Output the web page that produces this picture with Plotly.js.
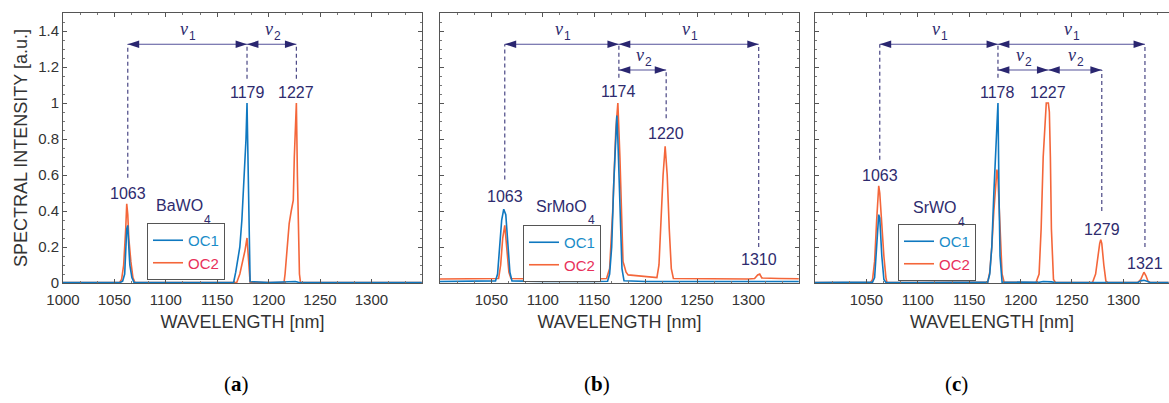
<!DOCTYPE html>
<html><head><meta charset="utf-8">
<script src="https://cdn.plot.ly/plotly-3.0.1.min.js"></script>
<style>html,body{margin:0;padding:0;background:#fff}</style>
</head><body><div id="chart" style="width:1169px;height:403px"></div>
<script>
// ---------- data ----------
// Panel (a) BaWO4
const aWlOC1 = [1000,1030,1056,1058,1060,1062,1063,1064,1065,1067,1069,1100,1140,1166,1168,1170,1172,1174,1176,1178,1179,1180,1181,1182,1200,1217,1220,1226,1229,1260,1300,1349];
const aOC1   = [0.003,0.003,0.004,0.01,0.05,0.3,0.32,0.2,0.1,0.03,0.004,0.003,0.003,0.004,0.06,0.12,0.2,0.35,0.55,0.8,1.0,0.62,0.2,0.008,0.003,0.004,0.008,0.008,0.004,0.003,0.003,0.003];
const aWlOC2 = [1000,1030,1055,1057,1059,1061,1062,1063,1064,1066,1068,1070,1100,1150,1169,1172,1175,1177,1179,1180,1182,1200,1215,1216,1218,1220,1222,1224,1225,1227,1228,1230,1231,1260,1300,1349];
const aOC2   = [0.002,0.002,0.003,0.02,0.1,0.3,0.44,0.38,0.25,0.12,0.03,0.003,0.002,0.002,0.003,0.05,0.12,0.18,0.25,0.15,0.005,0.002,0.003,0.05,0.22,0.33,0.4,0.46,0.7,1.0,0.6,0.05,0.003,0.002,0.002,0.002];
// Panel (b) SrMoO4
const bWlOC1 = [1000,1050,1054,1056,1058,1060,1062,1064,1066,1068,1070,1100,1150,1163,1165,1167,1169,1171,1172,1173,1175,1177,1179,1200,1250,1300,1310,1349];
const bOC1   = [0.008,0.008,0.012,0.05,0.2,0.35,0.41,0.38,0.22,0.06,0.012,0.008,0.008,0.01,0.05,0.2,0.55,0.85,0.93,0.8,0.4,0.08,0.012,0.008,0.008,0.008,0.01,0.008];
const bWlOC2 = [1000,1050,1057,1059,1061,1063,1065,1067,1069,1100,1150,1162,1165,1168,1171,1173,1175,1177,1178,1179,1181,1183,1195,1205,1211,1213,1215,1217,1219,1221,1223,1225,1227,1260,1300,1306,1309,1311,1313,1330,1349];
const bOC2   = [0.022,0.022,0.025,0.1,0.25,0.32,0.2,0.06,0.025,0.022,0.022,0.025,0.08,0.4,0.85,1.0,0.7,0.25,0.12,0.1,0.06,0.045,0.04,0.035,0.03,0.1,0.35,0.6,0.76,0.6,0.3,0.08,0.025,0.022,0.022,0.025,0.045,0.05,0.028,0.025,0.024];
// Panel (c) SrWO4
const cWlOC1 = [1000,1050,1056,1058,1060,1062,1063,1065,1067,1069,1100,1150,1168,1170,1172,1174,1176,1178,1179,1180,1182,1200,1218,1222,1226,1230,1234,1260,1276,1279,1282,1300,1314,1317,1320,1323,1326,1344];
const cOC1   = [0.003,0.003,0.005,0.03,0.2,0.38,0.36,0.15,0.02,0.003,0.003,0.003,0.005,0.05,0.2,0.5,0.8,1.0,0.5,0.15,0.005,0.003,0.004,0.008,0.008,0.006,0.003,0.003,0.004,0.006,0.004,0.003,0.003,0.012,0.015,0.01,0.003,0.003];
const cWlOC2 = [1000,1050,1054,1056,1058,1060,1062,1063,1065,1067,1069,1070,1100,1150,1168,1170,1172,1174,1176,1177,1178,1180,1182,1184,1200,1215,1218,1220,1222,1224,1225,1227,1228,1229,1230,1232,1234,1260,1270,1273,1275,1277,1278,1279,1281,1283,1285,1300,1314,1317,1319,1320,1322,1324,1326,1344];
const cOC2   = [0.002,0.002,0.003,0.02,0.12,0.35,0.54,0.5,0.32,0.15,0.03,0.003,0.002,0.002,0.005,0.06,0.2,0.4,0.58,0.63,0.58,0.3,0.05,0.004,0.002,0.003,0.05,0.3,0.7,0.95,1.0,1.0,0.95,0.7,0.3,0.02,0.003,0.002,0.003,0.05,0.15,0.22,0.24,0.22,0.1,0.01,0.003,0.002,0.003,0.02,0.05,0.06,0.04,0.01,0.003,0.002];

// Peak labels, dashed markers and Raman-shift arrows
const aPeakLbl = ['1063','1179','1227'], aPeakX = [1063,1179,1227], aPeakY = [0.50,1.06,1.06];
const aDashX = [1063,1179,1227], aDashLo = [0.585,1.135,1.135], aDashHi = [1.326,1.326,1.326];
const aArrFrom = [1063,1179], aArrTo = [1179,1227], aArrY = [1.326,1.326], aArrSub = ['1','2'];

const bPeakLbl = ['1063','1174','1220','1310'], bPeakX = [1063,1174,1220,1310], bPeakY = [0.48,1.065,0.83,0.13];
const bDashX = [1063,1174,1220,1310], bDashLo = [0.575,1.14,0.915,0.2], bDashHi = [1.326,1.326,1.183,1.326];
const bArrFrom = [1063,1174,1174], bArrTo = [1174,1310,1220], bArrY = [1.326,1.326,1.183], bArrSub = ['1','1','2'];

const cPeakLbl = ['1063','1178','1227','1279','1321'], cPeakX = [1063,1178,1227,1279,1321], cPeakY = [0.6,1.06,1.06,0.3,0.11];
const cDashX = [1063,1178,1279,1321], cDashLo = [0.685,1.14,0.4,0.2], cDashHi = [1.326,1.326,1.183,1.326];
const cArrFrom = [1063,1178,1178,1227], cArrTo = [1178,1321,1227,1279], cArrY = [1.326,1.326,1.183,1.183], cArrSub = ['1','1','2','2'];

// crystal names: main part + subscript, anchored at the join point
const crystalMain = ['BaWO','SrMoO','SrWO'], crystalSub = ['4','4','4'];
const crystalX = [1138,1144.5,1140], crystalY = [0.428,0.426,0.417], crystalSubY = [0.35,0.35,0.34];
const panelTags = ['(<b>a</b>)','(<b>b</b>)','(<b>c</b>)'];
const xTicksA = [1000,1050,1100,1150,1200,1250,1300];
const xTicksBC = [1050,1100,1150,1200,1250,1300];

// ---------- styling ----------
const W = 1169, H = 403;
const BLUE = '#0f78c0', ORANGE = '#f4663a', NAVY = '#2e2b6e', ARROW = '#2a2670';
const FONT = 'Liberation Sans, Arial, sans-serif';
const yDom = [(H-283)/H, (H-13)/H];

const panels = [
  {wl1:aWlOC1, v1:aOC1, wl2:aWlOC2, v2:aOC2, lbl:aPeakLbl, lx:aPeakX, ly:aPeakY, dx:aDashX, dlo:aDashLo, dhi:aDashHi, af:aArrFrom, at:aArrTo, ay:aArrY, as:aArrSub},
  {wl1:bWlOC1, v1:bOC1, wl2:bWlOC2, v2:bOC2, lbl:bPeakLbl, lx:bPeakX, ly:bPeakY, dx:bDashX, dlo:bDashLo, dhi:bDashHi, af:bArrFrom, at:bArrTo, ay:bArrY, as:bArrSub},
  {wl1:cWlOC1, v1:cOC1, wl2:cWlOC2, v2:cOC2, lbl:cPeakLbl, lx:cPeakX, ly:cPeakY, dx:cDashX, dlo:cDashLo, dhi:cDashHi, af:cArrFrom, at:cArrTo, ay:cArrY, as:cArrSub}
];
const xDoms = [[63/W, 422/W],[440/W, 799/W],[815/W, 1]];
const xRanges = [[1000,1349.2],[1000,1349.2],[1000,1344.4]];
const legendPos = [[147/W, (H-223)/H],[523/W, (H-225)/H],[898/W, (H-224)/H]];
const tagX = [222/W, 597/W, 970/W];

const traces = [], shapes = [], annotations = [];
const layout = {
  width: W, height: H, autosize: false,
  margin: {l:0, r:0, t:0, b:0},
  paper_bgcolor: '#fff', plot_bgcolor: '#fff',
  font: {family: FONT, color: '#333'},
  showlegend: true
};

panels.forEach((p, i) => {
  const k = i === 0 ? '' : String(i+1);
  const xr = 'x' + k, yr = 'y' + k;
  const legKey = 'legend' + k;
  // OC2 first so OC1 draws on top; legend order fixed with legendrank
  traces.push({x:p.wl2, y:p.v2, xaxis:xr, yaxis:yr, type:'scatter', mode:'lines',
    name:'<span style="color:#e8305a">OC2</span>', legend:legKey, legendrank:2,
    line:{color:ORANGE, width:1.6}, hoverinfo:'skip'});
  traces.push({x:p.wl1, y:p.v1, xaxis:xr, yaxis:yr, type:'scatter', mode:'lines',
    name:'<span style="color:#1a8cc8">OC1</span>', legend:legKey, legendrank:1,
    line:{color:BLUE, width:1.6}, hoverinfo:'skip'});

  // double-headed arrows (line + arrowhead markers) with nu labels
  p.af.forEach((x0, j) => {
    traces.push({x:[x0, p.at[j]], y:[p.ay[j], p.ay[j]], xaxis:xr, yaxis:yr, type:'scatter',
      mode:'lines+markers', showlegend:false, hoverinfo:'skip',
      line:{color:'#55529a', width:1.1},
      marker:{symbol:'arrow', size:12, angle:[-90, 90], color:ARROW}});
    const mid = (x0 + p.at[j]) / 2;
    annotations.push({xref:xr, yref:yr, x:mid, y:p.ay[j], xanchor:'right', yanchor:'middle',
      xshift:3, yshift:15, text:'<i>ν</i>', showarrow:false,
      font:{size:18, color:NAVY, family:'Liberation Serif, serif'}});
    annotations.push({xref:xr, yref:yr, x:mid, y:p.ay[j], xanchor:'left', yanchor:'middle',
      xshift:0, yshift:8, text:p.as[j], showarrow:false,
      font:{size:12, color:NAVY, family:FONT}});
  });

  layout['xaxis'+k] = {
    domain: xDoms[i], range: xRanges[i], anchor: yr,
    showline:true, linecolor:'#555', linewidth:1, mirror:'ticks',
    ticks:'inside', ticklen:4, tickcolor:'#555',
    tickmode:'array', tickvals: i === 0 ? xTicksA : xTicksBC,
    tickfont:{size:15, color:'#333'}, ticklabelstandoff:3,
    minor:{tickmode:'linear', tick0:1000, dtick:50/3, ticks:'inside', ticklen:2, tickcolor:'#777'},
    showgrid:false, zeroline:false, fixedrange:true,
    title:{text:'WAVELENGTH [nm]', font:{size:18, color:'#333'}, standoff:8}
  };
  layout['yaxis'+k] = {
    domain: yDom, range:[0,1.5], anchor: xr,
    showline:true, linecolor:'#555', linewidth:1, mirror: i === 2 ? false : 'ticks',
    ticks:'inside', ticklen:4, tickcolor:'#555',
    tick0:0, dtick:0.2, showticklabels: i === 0,
    tickfont:{size:15, color:'#333'},
    minor:{dtick:0.05, ticks:'inside', ticklen:2, tickcolor:'#777'},
    showgrid:false, zeroline:false, fixedrange:true
  };
  if (i === 0) layout['yaxis'+k].title = {text:'SPECTRAL INTENSITY [a.u.]', font:{size:18, color:'#333'}, standoff:5};

  layout[legKey] = {
    x: legendPos[i][0], y: legendPos[i][1], xanchor:'left', yanchor:'top',
    bgcolor:'#fff', bordercolor:'#555', borderwidth:1,
    font:{size:15, family:FONT}, itemwidth:30, tracegroupgap:0
  };

  // dashed marker lines
  p.dx.forEach((x, j) => {
    shapes.push({type:'line', xref:xr, yref:yr, x0:x, x1:x, y0:p.dlo[j], y1:p.dhi[j],
      line:{color:'#4a4785', width:1.2, dash:'4px,3px'}});
  });
  // peak wavelength labels
  p.lbl.forEach((t, j) => {
    annotations.push({xref:xr, yref:yr, x:p.lx[j], y:p.ly[j], text:t, showarrow:false,
      font:{size:16, color:NAVY, family:FONT}});
  });
  // crystal name (main text + lowered subscript digit)
  annotations.push({xref:xr, yref:yr, x:crystalX[i], y:crystalY[i], xanchor:'right', yanchor:'middle',
    text:crystalMain[i], showarrow:false, font:{size:16, color:NAVY, family:FONT}});
  annotations.push({xref:xr, yref:yr, x:crystalX[i], y:crystalSubY[i], xanchor:'left', yanchor:'middle',
    xshift:-3, text:crystalSub[i], showarrow:false, font:{size:12, color:NAVY, family:FONT}});
  // panel tag
  annotations.push({xref:'paper', yref:'paper', x:tagX[i], y:(H-384)/H, yanchor:'middle', text:panelTags[i], showarrow:false,
    font:{size:21, color:'#000', family:'Liberation Serif, serif'}});
});

layout.shapes = shapes;
layout.annotations = annotations;
Plotly.newPlot('chart', traces, layout, {displayModeBar:false, staticPlot:true});
</script></body></html>
